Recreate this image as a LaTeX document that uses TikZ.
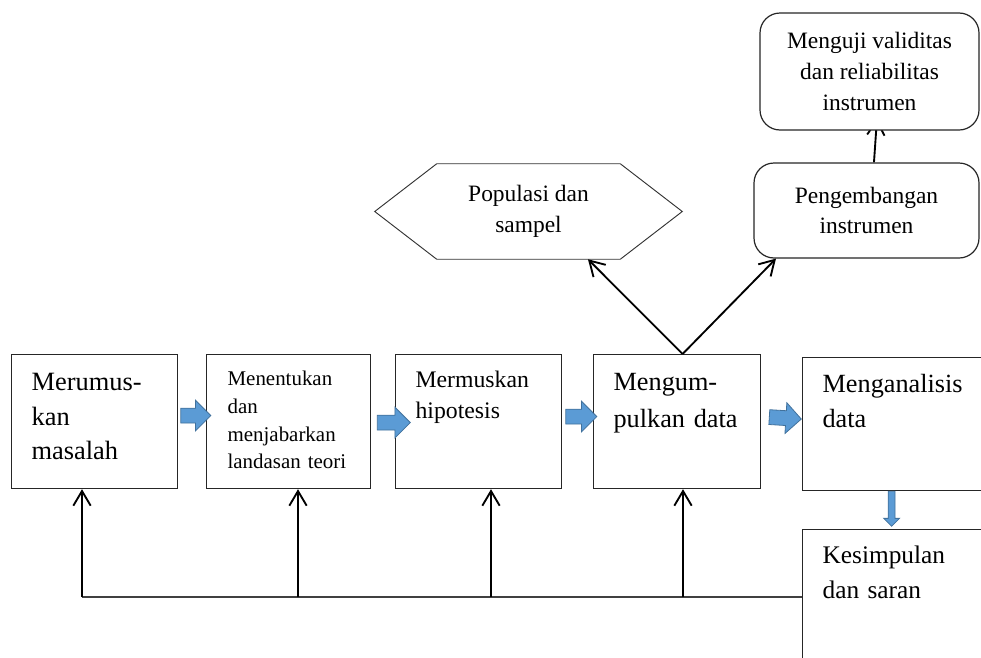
\documentclass[tikz,border=0pt]{standalone}
\usepackage{fontspec}
\setmainfont{Liberation Serif}
\usetikzlibrary{arrows.meta,shapes.arrows,backgrounds}

\definecolor{flowblue}{RGB}{91,155,213}
\definecolor{flowedge}{RGB}{65,113,156}

\tikzset{
  stepbox/.style={draw=black!85, line width=0.9pt, fill=white, anchor=north west, align=left, inner ysep=0pt},
  roundbox/.style={draw=black!85, line width=0.9pt, fill=white, rounded corners=15pt, align=center,
    font=\fontsize{17.6}{22.9}\selectfont},
  flowarrow/.style={single arrow, fill=flowblue, draw=flowedge, line width=0.6pt, inner xsep=0pt,
    inner ysep=5.25pt, single arrow head extend=6pt, sloped, allow upside down},
  feedback/.style={line width=1.4pt, -{Straight Barb[length=11pt,width=13pt]}},
  feedline/.style={line width=1pt, draw=black!75},
}

\begin{document}
\begin{tikzpicture}[x=0.75pt, y=-0.75pt]
    \useasboundingbox (0,0) rectangle (981,657);
    \clip (0,0) rectangle (981,657);

    % main steps
    \node[stepbox, inner xsep=15pt, text width=94.5pt, text height=27pt, text depth=73.5pt,
      font=\fontsize{19.8}{25.9}\selectfont] (m1) at (11,354) {Merumus-\\kan\\masalah};
    \node[stepbox, inner xsep=15.75pt, text width=91.5pt, text height=23.25pt, text depth=77.25pt,
      font=\fontsize{15.7}{20.8}\selectfont] (m2) at (206,354) {Menentukan\\dan\\menjabarkan\\landasan teori};
    \node[stepbox, inner xsep=15pt, text width=94.5pt, text height=24.75pt, text depth=75.75pt,
      font=\fontsize{17.8}{23.25}\selectfont] (m3) at (395,354) {Mermuskan\\hipotesis};
    \node[stepbox, inner xsep=15pt, text width=95.25pt, text height=27pt, text depth=73.5pt,
      font=\fontsize{19.7}{27.75}\selectfont] (m4) at (593,354) {Mengum-\\pulkan data};
    \node[stepbox, inner xsep=15pt, text width=111pt, text height=26.25pt, text depth=73.5pt,
      font=\fontsize{19.7}{26.25}\selectfont] (m5) at (802,357) {Menganalisis\\data};
    \node[stepbox, inner xsep=15pt, text width=111pt, text height=25.5pt, text depth=102.75pt,
      font=\fontsize{19}{26.25}\selectfont] (m6) at (802,529) {Kesimpulan\\dan saran};

    % upper part
    \node[align=center, minimum width=137.25pt, minimum height=71.25pt, inner sep=0pt,
      font=\fontsize{17.6}{22.9}\selectfont] (pop) at (528.5,211.5) {Populasi dan\\sampel};
    \draw[draw=black!80, line width=0.7pt] (pop.north west) -- (pop.north east) -- ([xshift=46.5pt]pop.east)
      -- (pop.south east) -- (pop.south west) -- ([xshift=-46.5pt]pop.west) -- cycle;
    \node[roundbox, minimum width=168.75pt, minimum height=71.25pt] (dev) at (866.5,210.5) {Pengembangan\\instrumen};
    \node[roundbox, minimum width=164.25pt, minimum height=87.75pt] (val) at (869.5,71.5) {Menguji validitas\\dan reliabilitas\\instrumen};

    \begin{pgfonlayer}{background}
      \draw[feedback] ([xshift=5.6pt]dev.north) -- ([xshift=5.6pt,yshift=9pt]val.south);
    \end{pgfonlayer}

    \draw[feedback] ([xshift=4.1pt]m4.north) -- ([xshift=44.6pt]pop.south);
    \draw[feedback] ([xshift=4.1pt]m4.north) -- ([xshift=-67.9pt]dev.south);

    % block arrows between steps
    \path ([yshift=4.5pt]m1.east) -- ([yshift=4.5pt]m2.west) node[midway, flowarrow, minimum height=22.5pt] (a12) {};
    \path ([yshift=-0.75pt]m2.east) -- ([yshift=-0.75pt]m3.west) node[midway, flowarrow, minimum height=24.75pt, xshift=5.25pt] (a23) {};
    \path ([yshift=3.75pt]m3.east) -- ([yshift=3.75pt]m4.west) node[midway, flowarrow, minimum height=23.25pt] (a34) {};
    \path ([yshift=3.75pt]m4.east) -- ([yshift=3.75pt]m5.west) node[midway, flowarrow, minimum height=24pt] (a45) {};
    \path ([xshift=-3.75pt]m5.south) -- ([xshift=-3.75pt]m6.north) node[pos=0.42, flowarrow, minimum height=26.25pt,
      inner ysep=2.25pt, single arrow head extend=3.4pt] (a56) {};

    % feedback to every step
    \coordinate (fb1) at (82,597);
    \coordinate (fb2) at (298,597);
    \coordinate (fb3) at (491,597);
    \coordinate (fb4) at (683,597);
    \draw[feedline] (fb1) -- (fb1 -| m6.west);
    \draw[feedback] (fb1) -- (fb1 |- m1.south);
    \draw[feedback] (fb2) -- (fb2 |- m2.south);
    \draw[feedback] (fb3) -- (fb3 |- m3.south);
    \draw[feedback] (fb4) -- (fb4 |- m4.south);
\end{tikzpicture}
\end{document}
